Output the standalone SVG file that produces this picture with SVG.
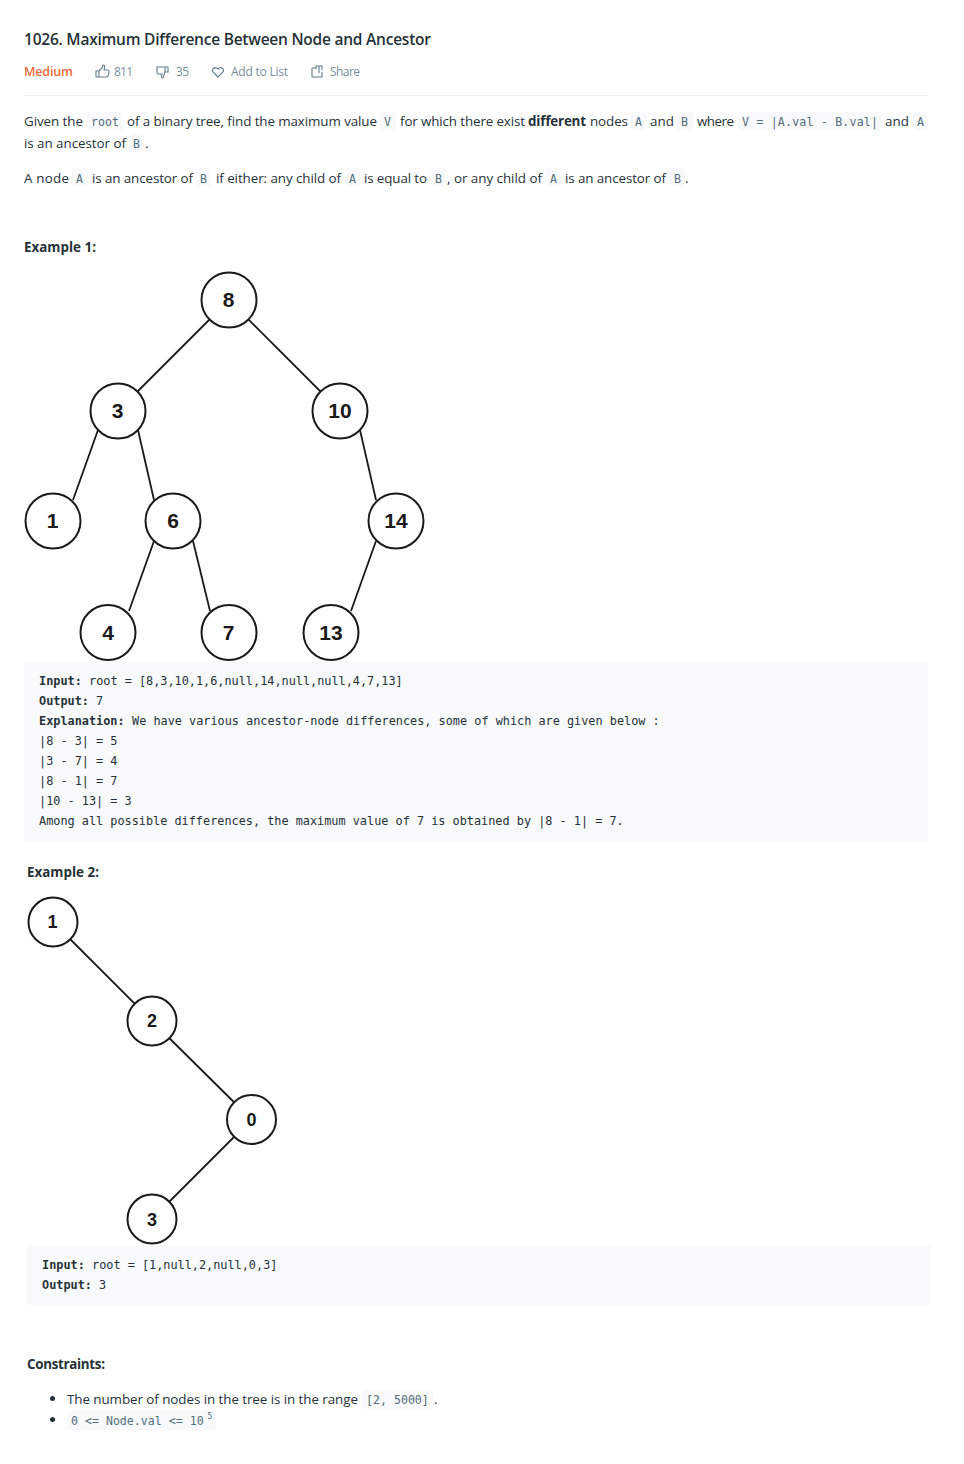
<svg xmlns="http://www.w3.org/2000/svg" width="964" height="1464" viewBox="0 0 964 1464">
<style>
text{font-family:"Open Sans","Noto Sans","Liberation Sans",sans-serif;font-size:13.4px;fill:#263238}
.b{font-weight:700}
.c{font-family:"DejaVu Sans Mono","Liberation Mono",monospace;font-size:11.6px;fill:#546e7a}
.p{font-family:"DejaVu Sans Mono","Liberation Mono",monospace;font-size:11.85px;fill:#263238}
.pb{font-family:"DejaVu Sans Mono","Liberation Mono",monospace;font-size:11.85px;fill:#263238;font-weight:700}
.g{fill:#78909c;font-size:12px}
.k{fill:#f7f9fa}
.n circle{fill:#fff;stroke:#1a1a1a;stroke-width:2}
.n text{font-family:"Liberation Sans",Arial,sans-serif;font-weight:700;font-size:21px;fill:#1a1a1a;text-anchor:middle}
.m text{font-size:18px}
#connectors line{stroke:#1a1a1a;stroke-width:1.8}
.i{fill:none;stroke:#607d8b;stroke-width:1.1}
</style>
<rect width="964" height="1464" fill="#fff"/>
<text x="24" y="45" style="font-size:15.5px;font-weight:600" textLength="407">1026. Maximum Difference Between Node and Ancestor</text>
<text x="24" y="76" style="fill:#ef6c3a;font-size:12.5px;font-weight:600" textLength="49">Medium</text>
<g class="i">
<path d="M96 71h3v6h-3zM99 71l3-3 1-3c2 0 2 2 1 5h4c1 0 1 1 1 2l-1 4c0 1-1 1-2 1h-7"/>
<path d="M157 67h11v5h-3l-1 3-1 3c-2 0-2-2-1-4h-4c-1 0-1-1-1-2zM165 67v5"/>
<path d="M218 77l-5-5c-2-3 2-6 5-3 3-3 7 0 5 3z"/>
<path d="M312 68h4M312 68v9h10v-5M319 66v7M316 69v-3h6v4"/>
</g>
<text class="g" x="114" y="76" textLength="19">811</text>
<text class="g" x="176" y="76" textLength="13">35</text>
<text class="g" x="231" y="76" textLength="57">Add to List</text>
<text class="g" x="330" y="76" textLength="30">Share</text>
<rect x="24" y="95" width="904" height="1" fill="#eceff1"/>

<g class="k">
<rect x="87" y="112" width="36" height="19" rx="3"/><rect x="380" y="112" width="16" height="19" rx="3"/>
<rect x="631" y="112" width="16" height="19" rx="3"/><rect x="677" y="112" width="16" height="19" rx="3"/>
<rect x="738" y="112" width="144" height="19" rx="3"/><rect x="913" y="112" width="15" height="19" rx="3"/>
<rect x="129" y="133" width="15" height="19" rx="3"/>
<rect x="72" y="168" width="16" height="19" rx="3"/><rect x="196" y="168" width="15" height="19" rx="3"/>
<rect x="345" y="168" width="15" height="19" rx="3"/><rect x="431" y="168" width="15" height="19" rx="3"/>
<rect x="546" y="168" width="15" height="19" rx="3"/><rect x="670" y="168" width="15" height="19" rx="3"/>
</g>
<text x="24" y="126" textLength="59">Given the</text>
<text class="c" x="91" y="126" textLength="28">root</text>
<text x="127" y="126" textLength="250">of a binary tree, find the maximum value</text>
<text class="c" x="384" y="126">V</text>
<text x="400" y="126" textLength="125">for which there exist</text>
<text class="b" x="528" y="126" textLength="58">different</text>
<text x="590" y="126" textLength="38">nodes</text>
<text class="c" x="635" y="126">A</text>
<text x="650" y="126" textLength="24">and</text>
<text class="c" x="681" y="126">B</text>
<text x="697" y="126" textLength="37">where</text>
<text class="c" x="742" y="126" textLength="136">V = |A.val - B.val|</text>
<text x="885" y="126" textLength="24">and</text>
<text class="c" x="917" y="126">A</text>
<text x="24" y="147.500" textLength="102">is an ancestor of</text>
<text class="c" x="133" y="147.500">B</text>
<text x="145" y="147.500">.</text>
<text x="24" y="182.500" textLength="45">A node</text>
<text class="c" x="76" y="182.500">A</text>
<text x="92" y="182.500" textLength="101">is an ancestor of</text>
<text class="c" x="200" y="182.500">B</text>
<text x="216" y="182.500" textLength="125">if either: any child of</text>
<text class="c" x="349" y="182.500">A</text>
<text x="364" y="182.500" textLength="63">is equal to</text>
<text class="c" x="435" y="182.500">B</text>
<text x="447" y="182.500" textLength="95">, or any child of</text>
<text class="c" x="550" y="182.500">A</text>
<text x="565" y="182.500" textLength="101">is an ancestor of</text>
<text class="c" x="674" y="182.500">B</text>
<text x="685" y="182.500">.</text>

<text class="b" x="24" y="252" textLength="72">Example 1:</text>

<g id="connectors">
<line x1="229" y1="300" x2="118" y2="411"/><line x1="229" y1="300" x2="340" y2="411"/>
<line x1="98" y1="430" x2="73" y2="500"/><line x1="138" y1="430" x2="154" y2="500"/>
<line x1="360" y1="430" x2="376" y2="500"/>
<line x1="154" y1="541" x2="129" y2="611"/><line x1="193" y1="541" x2="210" y2="611"/>
<line x1="376" y1="541" x2="351" y2="611"/>
<line x1="53" y1="922" x2="152" y2="1021"/><line x1="152" y1="1021" x2="251.500" y2="1119.500"/><line x1="251.500" y1="1119.500" x2="152" y2="1219"/>
</g>
<g class="n" id="tree1">
<g id="n8"><circle cx="229" cy="300" r="27.500"/><text x="228.500" y="306.800">8</text></g>
<g id="n3"><circle cx="118" cy="411" r="27.500"/><text x="117.500" y="417.800">3</text></g>
<g id="n10"><circle cx="340" cy="411" r="27.500"/><text x="340" y="417.800">10</text></g>
<g id="n1"><circle cx="53" cy="521" r="27.500"/><text x="52.500" y="528">1</text></g>
<g id="n6"><circle cx="173" cy="521" r="27.500"/><text x="173" y="528">6</text></g>
<g id="n14"><circle cx="396" cy="521" r="27.500"/><text x="396" y="528">14</text></g>
<g id="n4"><circle cx="108" cy="632.500" r="27.500"/><text x="108" y="639.500">4</text></g>
<g id="n7"><circle cx="229" cy="632.500" r="27.500"/><text x="228.500" y="639.500">7</text></g>
<g id="n13"><circle cx="331" cy="632.500" r="27.500"/><text x="331" y="639.500">13</text></g>
</g>
<rect class="k" x="24" y="661" width="904" height="180" rx="3"/>
<text class="pb" x="39" y="685">Input:</text><text class="p" x="89" y="685">root = [8,3,10,1,6,null,14,null,null,4,7,13]</text>
<text class="pb" x="39" y="705">Output:</text><text class="p" x="96" y="705">7</text>
<text class="pb" x="39" y="725">Explanation:</text><text class="p" x="132" y="725">We have various ancestor-node differences, some of which are given below :</text>
<text class="p" x="39" y="745">|8 - 3| = 5</text>
<text class="p" x="39" y="765">|3 - 7| = 4</text>
<text class="p" x="39" y="785">|8 - 1| = 7</text>
<text class="p" x="39" y="805">|10 - 13| = 3</text>
<text class="p" x="39" y="825">Among all possible differences, the maximum value of 7 is obtained by |8 - 1| = 7.</text>

<text class="b" x="27" y="877" textLength="72">Example 2:</text>
<g class="n m" id="tree2">
<g id="m1"><circle cx="53" cy="922" r="24.500"/><text x="52.500" y="928">1</text></g>
<g id="m2"><circle cx="152" cy="1021" r="24.500"/><text x="152" y="1027">2</text></g>
<g id="m0"><circle cx="251.500" cy="1119.500" r="24.500"/><text x="251.500" y="1125.500">0</text></g>
<g id="m3"><circle cx="152" cy="1219" r="24.500"/><text x="152" y="1225.500">3</text></g>
</g>
<rect class="k" x="27" y="1245" width="904" height="60" rx="3"/>
<text class="pb" x="42" y="1269">Input:</text><text class="p" x="92" y="1269">root = [1,null,2,null,0,3]</text>
<text class="pb" x="42" y="1289">Output:</text><text class="p" x="99" y="1289">3</text>

<text class="b" x="27" y="1369" textLength="78">Constraints:</text>
<circle cx="52.500" cy="1398.500" r="2.500" fill="#263238"/>
<circle cx="52.500" cy="1419.500" r="2.500" fill="#263238"/>
<text x="67" y="1404" textLength="291">The number of nodes in the tree is in the range</text>
<rect class="k" x="362" y="1390" width="72" height="19" rx="3"/>
<text class="c" x="366" y="1404">[2, 5000]</text>
<text x="434" y="1404">.</text>
<rect class="k" x="67" y="1411" width="149" height="19" rx="3"/>
<text class="c" x="71" y="1425">0 &lt;= Node.val &lt;= 10</text>
<text class="c" x="207.500" y="1418.500" style="font-size:8px">5</text>
</svg>
